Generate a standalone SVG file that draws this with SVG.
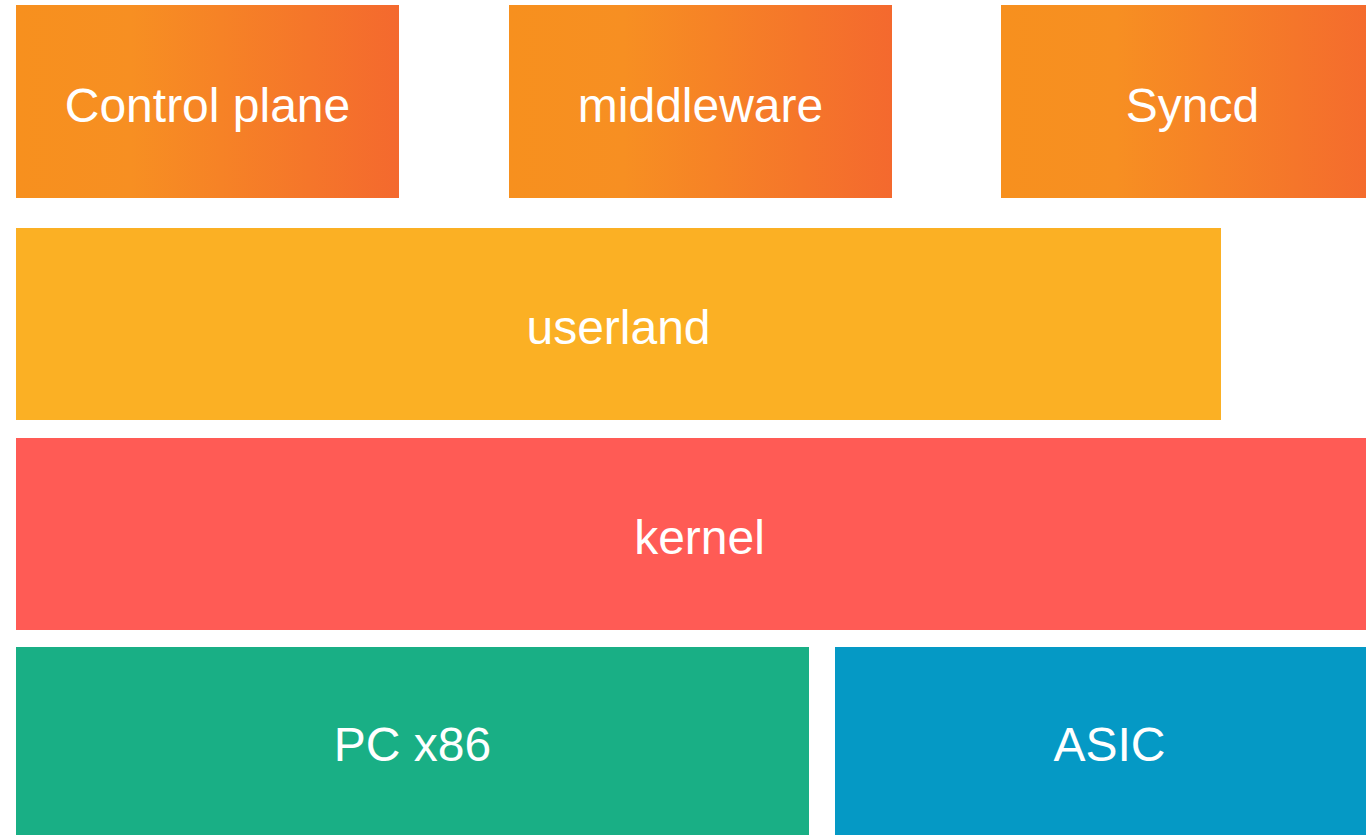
<svg xmlns="http://www.w3.org/2000/svg" width="1366" height="835" viewBox="0 0 1366 835">
<defs>
<linearGradient id="og" x1="0" y1="0" x2="1" y2="0">
<stop offset="0" stop-color="#F7901E"/>
<stop offset="0.3" stop-color="#F78F22"/>
<stop offset="1" stop-color="#F4692E"/>
</linearGradient>
<style>
text{font-family:"Liberation Sans",Arial,sans-serif;font-size:48px;fill:#FFFFFF;text-anchor:middle}
.top{fill:url(#og)}
</style>
</defs>
<rect width="1366" height="835" fill="#FFFFFF"/>
<g id="control-plane"><rect class="top" x="16" y="5" width="383" height="193"/><text x="207.5" y="121.5">Control plane</text></g>
<g id="middleware"><rect class="top" x="509" y="5" width="383" height="193"/><text x="700.5" y="121.5">middleware</text></g>
<g id="syncd"><rect class="top" x="1001" y="5" width="383" height="193"/><text x="1192.5" y="121.5">Syncd</text></g>
<g id="userland"><rect x="16" y="228" width="1205" height="192" fill="#FBB024"/><text x="618.5" y="344">userland</text></g>
<g id="kernel"><rect x="16" y="438" width="1367" height="192" fill="#FF5B55"/><text x="699.5" y="554">kernel</text></g>
<g id="pc-x86"><rect x="16" y="647" width="793" height="192" fill="#19AF85"/><text x="412.5" y="761">PC x86</text></g>
<g id="asic"><rect x="835" y="647" width="548" height="192" fill="#0599C5"/><text x="1109.5" y="761">ASIC</text></g>
<g id="connectors"/>
</svg>
